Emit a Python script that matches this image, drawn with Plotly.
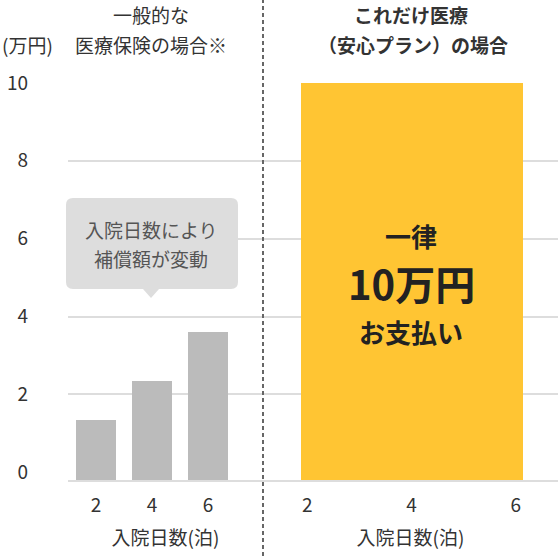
import plotly.graph_objects as go

# ---- data ----
days = [2, 4, 6]
general_values = [1.35, 2.35, 3.6]
plan_day = [4]
plan_value = [10]
y_ticks = [0, 2, 4, 6, 8, 10]
x_ticks = [2, 4, 6]
Y_MIN = -0.2
Y_MAX = 10

FONT = "Noto Sans CJK JP"
TXT = "#333333"

W, H = 558, 556
L, R, T, B = 68, 0, 83, 76
PW, PH = W - L - R, H - T - B

def px(x):
    return (x - L) / PW

def py(y):
    return (H - B - y) / PH

SPLIT = px(263)

fig = go.Figure()
fig.add_trace(go.Bar(
    x=days, y=[v - Y_MIN for v in general_values], base=Y_MIN,
    width=1.43, marker=dict(color="#BBBBBB", line=dict(width=0)),
    xaxis="x", yaxis="y", hoverinfo="skip"))
fig.add_trace(go.Bar(
    x=plan_day, y=[v - Y_MIN for v in plan_value], base=Y_MIN,
    width=4.26, marker=dict(color="#FFC533", line=dict(width=0)),
    xaxis="x2", yaxis="y", hoverinfo="skip"))

axis_common = dict(
    tickvals=x_ticks, ticktext=[str(t) for t in x_ticks],
    showgrid=False, zeroline=False, showline=True, linecolor="#DDDDDD",
    linewidth=2, ticks="", tickfont=dict(size=19, color=TXT, family=FONT),
    ticklabelstandoff=7,
    title=dict(text="入院日数(泊)", font=dict(size=19, color=TXT, family=FONT), standoff=16),
    fixedrange=True)

fig.update_layout(
    width=W, height=H, margin=dict(l=L, r=R, t=T, b=B),
    paper_bgcolor="white", plot_bgcolor="white", showlegend=False,
    font=dict(family=FONT, color=TXT),
    bargap=0,
    xaxis=dict(domain=[0, SPLIT], range=[1, 7.96], anchor="y", **axis_common),
    xaxis2=dict(domain=[SPLIT, 1], range=[1.15, 6.81], anchor="y", **axis_common),
    yaxis=dict(range=[Y_MIN, Y_MAX], tickvals=y_ticks, ticktext=[str(t) for t in y_ticks],
               showgrid=True, gridcolor="#DDDDDD", gridwidth=2,
               zeroline=True, zerolinecolor="rgba(0,0,0,0)",
               showline=False, ticks="", ticklabelstandoff=39,
               tickfont=dict(size=19, color=TXT, family=FONT), anchor="x", fixedrange=True),
)

# divider
fig.add_shape(type="line", xref="paper", yref="paper", x0=SPLIT, x1=SPLIT,
              y0=py(H), y1=py(0), line=dict(color="#666666", width=2, dash="4px,3px"))

# callout box
x0, x1, y0, y1, r = 66, 238, 198, 289, 7
tipx, tipy, tw = 151, 298, 8
path = (f"M {px(x0+r)},{py(y0)} L {px(x1-r)},{py(y0)} Q {px(x1)},{py(y0)} {px(x1)},{py(y0+r)} "
        f"L {px(x1)},{py(y1-r)} Q {px(x1)},{py(y1)} {px(x1-r)},{py(y1)} "
        f"L {px(tipx+tw)},{py(y1)} L {px(tipx)},{py(tipy)} L {px(tipx-tw)},{py(y1)} "
        f"L {px(x0+r)},{py(y1)} Q {px(x0)},{py(y1)} {px(x0)},{py(y1-r)} "
        f"L {px(x0)},{py(y0+r)} Q {px(x0)},{py(y0)} {px(x0+r)},{py(y0)} Z")
fig.add_shape(type="path", xref="paper", yref="paper", path=path,
              fillcolor="#DDDDDD", line=dict(width=0), layer="above")

def ann(text, x, y, size, bold=False, color=TXT, xanchor="center"):
    if bold:
        text = f"<b>{text}</b>"
    fig.add_annotation(text=text, xref="paper", yref="paper", x=px(x), y=py(y),
                       xanchor=xanchor, yanchor="middle", showarrow=False,
                       font=dict(size=size, color=color, family=FONT))

ann("入院日数により", 151, 229, 19, color="#555555")
ann("補償額が変動", 151, 258, 19, color="#555555")

ann("一般的な", 151, 15, 19)
ann("医療保険の場合※", 151, 44, 19)
ann("(万円)", 0, 44, 19, xanchor="left")
ann("これだけ医療", 411, 15, 19, bold=True)
ann("（安心プラン）の場合", 413, 44, 19, bold=True)

ann("一律", 411, 235, 26, bold=True, color="#222222")
ann("10万円", 411, 283, 40, bold=True, color="#222222")
ann("お支払い", 411, 331, 26, bold=True, color="#222222")

fig.write_html("out.html", config={"displayModeBar": False},
               post_script="document.body.style.margin='0';document.body.style.overflow='hidden';")
